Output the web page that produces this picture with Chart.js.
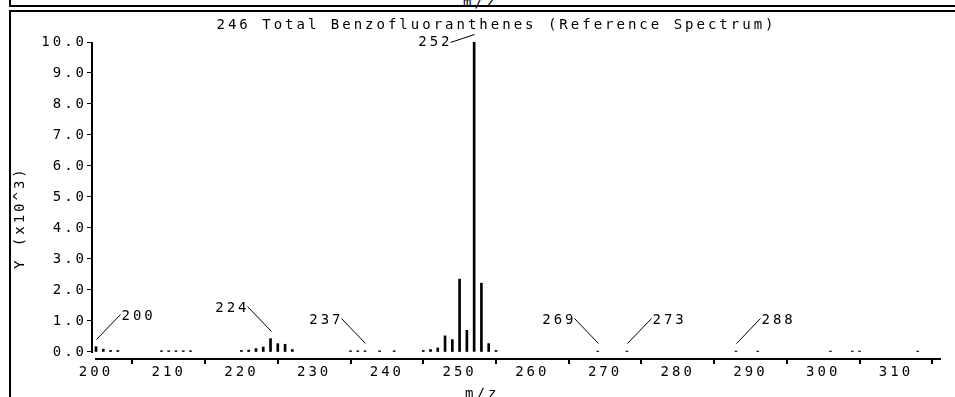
<!DOCTYPE html>
<html>
<head>
<meta charset="utf-8">
<script src="https://cdn.jsdelivr.net/npm/chart.js@4/dist/chart.umd.min.js"></script>
<style>
  html, body { margin: 0; padding: 0; background: #fff; }
  body { width: 955px; height: 397px; overflow: hidden; position: relative; }
  .mono { font-family: 'DejaVu Sans Mono', monospace; font-size: 14px; letter-spacing: 3px; color: #000; }
  #prev { position: absolute; left: 9px; top: -30px; width: 1000px; height: 35px;
          border-left: 2px solid #000; border-bottom: 2px solid #000; }
  #prevTitle { position: absolute; left: 452px; top: 25px; line-height: 14px; white-space: pre; }
  #frame { position: absolute; left: 9px; top: 10px; width: 1000px; height: 400px;
           border-left: 2px solid #000; border-top: 2px solid #000; }
  #wrap { position: absolute; left: 11px; top: 13px; width: 971px; height: 390px; }
  canvas { display: block; }
</style>
</head>
<body>
<div id="prev"><div id="prevTitle" class="mono">m/z</div></div>
<div id="frame"></div>
<div id="wrap"><canvas id="c" width="971" height="390"></canvas></div>
<script>
// ---------- data ----------
const chartTitle = '246 Total Benzofluoranthenes (Reference Spectrum)';
const xAxisTitle = 'm/z';
const yAxisTitle = 'Y (x10^3)';

const mzValues = [200, 201, 202, 203,
                  209, 210, 211, 212, 213,
                  220, 221, 222, 223, 224, 225, 226, 227,
                  235, 236, 237, 239, 241,
                  245, 246, 247, 248, 249, 250, 251, 252, 253, 254, 255,
                  269, 273, 288, 291, 301, 304, 305, 313];
const intensities = [0.17, 0.09, 0.05, 0.05,
                     0.04, 0.04, 0.04, 0.04, 0.04,
                     0.05, 0.06, 0.11, 0.16, 0.43, 0.27, 0.25, 0.08,
                     0.04, 0.04, 0.04, 0.04, 0.04,
                     0.05, 0.08, 0.13, 0.52, 0.40, 2.35, 0.70, 10.0, 2.22, 0.27, 0.05,
                     0.03, 0.03, 0.03, 0.03, 0.03, 0.03, 0.03, 0.03];
const labelledPeaks = [200, 224, 237, 252, 269, 273, 288];

const xTickValues = [200, 210, 220, 230, 240, 250, 260, 270, 280, 290, 300, 310];
const yTickValues = [0, 1, 2, 3, 4, 5, 6, 7, 8, 9, 10];

// ---------- style ----------
const FONT_FAMILY = "'DejaVu Sans Mono', monospace";
const FONT_SIZE = 14;
const LS = '3px';

Chart.defaults.font.family = FONT_FAMILY;
Chart.defaults.font.size = FONT_SIZE;
Chart.defaults.color = '#000';

const spacingPlugin = {
  id: 'spacing',
  beforeUpdate(chart) { chart.ctx.letterSpacing = LS; },
  beforeLayout(chart) { chart.ctx.letterSpacing = LS; },
  beforeDraw(chart) { chart.ctx.letterSpacing = LS; }
};

const axisLines = {
  id: 'axisLines',
  afterDraw(chart) {
    const { ctx, scales: { x, y }, chartArea } = chart;
    ctx.save();
    ctx.strokeStyle = '#000';
    ctx.lineWidth = 2;
    const ax = Math.round(chartArea.left);
    ctx.beginPath();
    ctx.moveTo(ax, Math.round(y.getPixelForValue(yTickValues[yTickValues.length - 1])));
    ctx.lineTo(ax, Math.round(y.getPixelForValue(yTickValues[0])) + 1);
    ctx.stroke();
    const ay = Math.round(chartArea.bottom);
    ctx.beginPath();
    ctx.moveTo(Math.round(x.getPixelForValue(xTickValues[0])) - 1, ay);
    ctx.lineTo(Math.round(x.right), ay);
    ctx.stroke();
    ctx.restore();
  }
};

const peakLabels = {
  id: 'peakLabels',
  afterDatasetsDraw(chart, args, opts) {
    const { ctx, scales: { x, y } } = chart;
    ctx.save();
    ctx.letterSpacing = LS;
    ctx.font = FONT_SIZE + 'px ' + FONT_FAMILY;
    ctx.fillStyle = '#000';
    ctx.strokeStyle = '#000';
    ctx.lineWidth = 1;
    ctx.textBaseline = 'middle';
    labelledPeaks.forEach((mz) => {
      const i = mzValues.indexOf(mz);
      const px = Math.round(x.getPixelForValue(mz)) + 0.5;
      const top = y.getPixelForValue(intensities[i]);
      const side = opts.sides[mz];
      const sx = px, sy = Math.round(top - opts.gap) + 0.5;
      let ex, ey, tx, ty, align;
      if (side === 'down') {
        ex = sx - opts.dx; ey = sy + 8; tx = ex + 2; ty = ey; align = 'right';
      } else if (side === 'left') {
        ex = sx - opts.dx; ey = sy - opts.dy; tx = ex + 2; ty = ey + 2; align = 'right';
      } else {
        ex = sx + opts.dx; ey = sy - opts.dy; tx = ex + 1; ty = ey + 2; align = 'left';
      }
      ctx.beginPath();
      ctx.moveTo(sx, sy);
      ctx.lineTo(ex, ey);
      ctx.stroke();
      ctx.textAlign = align;
      ctx.fillText(String(mz), tx, ty);
    });
    ctx.restore();
  }
};

new Chart(document.getElementById('c'), {
  type: 'bar',
  data: {
    datasets: [{
      data: mzValues.map((m, i) => ({ x: m, y: intensities[i] })),
      backgroundColor: '#000',
      borderWidth: 0,
      barThickness: 2,
      grouped: false
    }]
  },
  options: {
    responsive: false,
    animation: false,
    devicePixelRatio: 1,
    layout: { padding: 0 },
    plugins: {
      legend: { display: false },
      tooltip: { enabled: false },
      title: {
        display: true,
        text: chartTitle,
        color: '#000',
        font: { size: FONT_SIZE, weight: 'normal' },
        padding: { top: 4, bottom: 8.2 }
      },
      peakLabels: {
        sides: { 200: 'right', 224: 'left', 237: 'left', 252: 'down', 269: 'left', 273: 'right', 288: 'right' },
        gap: 8, dx: 24, dy: 25
      }
    },
    scales: {
      x: {
        type: 'linear',
        min: 199.45,
        max: 316.2,
        offset: false,
        afterBuildTicks: (s) => { s.ticks = xTickValues.map(v => ({ value: v })); },
        afterFit: (s) => { s.height = 44; s.paddingRight = 41; },
        ticks: { autoSkip: false, maxRotation: 0, padding: 0, color: '#000',
                 callback: (v) => String(v) },
        grid: { display: true, drawOnChartArea: false, drawTicks: true, tickLength: 5,
                color: '#000', lineWidth: 2 },
        border: { display: false },
        title: { display: true, text: xAxisTitle + '      ', color: '#000',
                 font: { size: FONT_SIZE }, padding: { top: 0, bottom: 0 } }
      },
      y: {
        type: 'linear',
        min: -0.226,
        max: 10,
        afterBuildTicks: (s) => { s.ticks = yTickValues.map(v => ({ value: v })); },
        afterFit: (s) => { s.width = 81; },
        ticks: { autoSkip: false, padding: 0, color: '#000',
                 callback: (v) => Number(v).toFixed(1) },
        grid: { display: true, drawOnChartArea: false, drawTicks: true, tickLength: 5,
                color: '#000', lineWidth: 1 },
        border: { display: false },
        title: { display: true, text: yAxisTitle + '   ', color: '#000',
                 font: { size: FONT_SIZE }, padding: { top: 1, bottom: 0 } }
      }
    }
  },
  plugins: [spacingPlugin, axisLines, peakLabels]
});
</script>
</body>
</html>
